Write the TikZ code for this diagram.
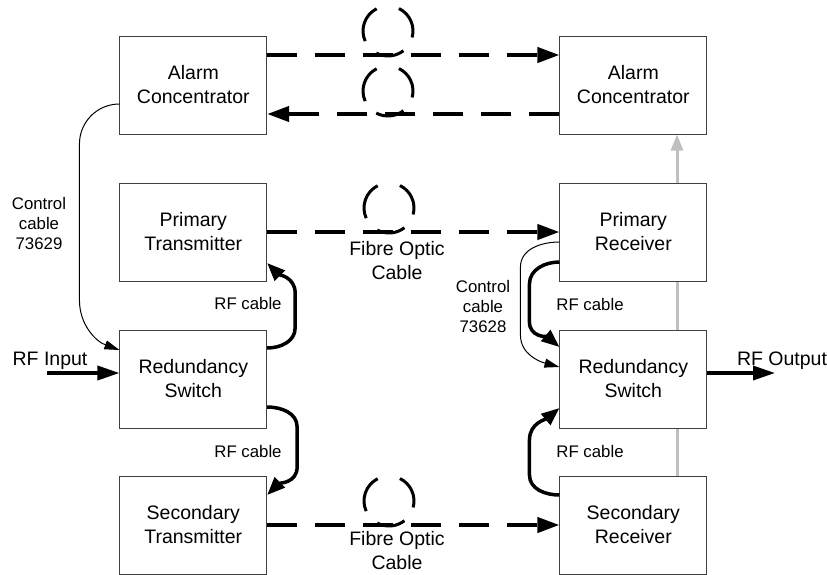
\documentclass[tikz,border=0pt]{standalone}
\usepackage{fontspec}
\setmainfont{Liberation Sans}
\usetikzlibrary{arrows.meta,calc,backgrounds}
\begin{document}
\begin{tikzpicture}[x=1pt,y=1pt,
 box/.style={draw=black!75,line width=1pt,fill=white,minimum width=146.7pt,minimum height=98pt,inner sep=0pt,align=center,font=\fontsize{19.5}{24}\selectfont},
 bigtext/.style={align=center,inner sep=0pt,font=\fontsize{19.5}{24}\selectfont},
 smalltext/.style={align=center,inner sep=0pt,font=\fontsize{16.8}{20}\selectfont},
 fibrearrow/.style={line width=4pt,dash pattern=on 30pt off 18pt,-{Triangle[length=22pt,width=15pt]}},
 rfcable/.style={line width=3.5pt,-{Triangle[length=18pt,width=14pt]}},
 ctrlcable/.style={line width=1pt,-{Triangle[length=15pt,width=9pt]}},
 rfio/.style={line width=3.5pt,-{Triangle[length=22pt,width=14pt]}},
 alarmline/.style={line width=3pt,draw=black!25,-{Triangle[length=16pt,width=12pt]}},
 fibreloopline/.style={line width=3pt},
 fibre/.pic={
   \draw[fibreloopline] (117:25) arc[start angle=117,end angle=204,radius=25];
   \draw[fibreloopline] (242:25) arc[start angle=242,end angle=308,radius=25];
   \draw[fibreloopline] (-15:25) arc[start angle=-15,end angle=64,radius=25];
 }
]
\useasboundingbox (0,0) rectangle (827,-574);

% boxes
\node[box] (lac) at (193.3,-85) {Alarm\\Concentrator};
\node[box] (rac) at (633.3,-85) {Alarm\\Concentrator};
\node[box] (pt) at (193.3,-232) {Primary\\Transmitter};
\node[box] (pr) at (633.3,-232) {Primary\\Receiver};
\node[box] (lrs) at (193.3,-379) {Redundancy\\Switch};
\node[box] (rrs) at (633.3,-379) {Redundancy\\Switch};
\node[box] (st) at (193.3,-525) {Secondary\\Transmitter};
\node[box] (sr) at (633.3,-525) {Secondary\\Receiver};

% grey alarm line behind boxes
\begin{pgfonlayer}{background}
\draw[alarmline] ([xshift=43.7pt]sr.north) -- ([xshift=43.7pt]rac.south);
\end{pgfonlayer}

% fibre optic links
\draw[fibrearrow] ([yshift=30pt]lac.east) -- ([yshift=30pt]rac.west);
\draw[fibrearrow] ([yshift=-29pt]rac.west) -- ([yshift=-29pt]lac.east);
\draw[fibrearrow] (pt.east) -- (pr.west);
\draw[fibrearrow] (st.east) -- (sr.west);

\pic at (388,-31) {fibre};
\pic at (388,-91) {fibre};
\pic at (389,-208) {fibre};
\pic at (389,-501) {fibre};

\node[bigtext] (fo1) at (397,-261) {Fibre Optic\\Cable};
\node[bigtext] (fo2) at (397,-551) {Fibre Optic\\Cable};

% RF cables
\draw[rfcable] ([yshift=31pt]lrs.east) to[out=0,in=-90] ++(28,20) -- ++(0,35) to[out=90,in=-45] ([yshift=-31pt]pt.east);
\draw[rfcable] ([yshift=-28pt]lrs.east) to[out=0,in=90] ++(30,-20) -- ++(0,-40) to[out=-90,in=45] ([yshift=30pt]st.east);
\draw[rfcable] ([yshift=-30pt]pr.west) to[out=180,in=90] ++(-30,-22) -- ++(0,-38) to[out=-90,in=140] ([yshift=32pt]rrs.west);
\draw[rfcable] ([yshift=30pt]sr.west) to[out=180,in=-90] ++(-30,20) -- ++(0,35) to[out=90,in=-140] ([yshift=-29pt]rrs.west);

\node[smalltext] (rfl1) at (248,-303) {RF cable};
\node[smalltext] (rfl2) at (248,-451) {RF cable};
\node[smalltext] (rfl3) at (590,-304) {RF cable};
\node[smalltext] (rfl4) at (590,-451) {RF cable};

% control cables
\draw[ctrlcable] ([yshift=-19pt]lac.west) to[out=180,in=90] ++(-40,-40) -- ++(0,-156) to[out=-90,in=160] ([yshift=29pt]lrs.west);
\draw[ctrlcable] ([yshift=-10pt]pr.west) to[out=180,in=90] ++(-39,-25) -- ++(0,-68) to[out=-90,in=165] ([yshift=12pt]rrs.west);

\node[smalltext] (cc1) at (39,-223) {Control\\cable\\73629};
\node[smalltext] (cc2) at (483,-306) {Control\\cable\\73628};

% RF input / output
\coordinate (rfin) at (47,-373);
\coordinate (rfout) at (775,-373);
\draw[rfio] (rfin) -- ([yshift=6pt]lrs.west);
\draw[rfio] ([yshift=6pt]rrs.east) -- (rfout);
\node[bigtext,anchor=base] (rfinl) at (50,-365) {RF Input};
\node[bigtext,anchor=base] (rfoutl) at (782,-365) {RF Output};
\end{tikzpicture}
\end{document}
